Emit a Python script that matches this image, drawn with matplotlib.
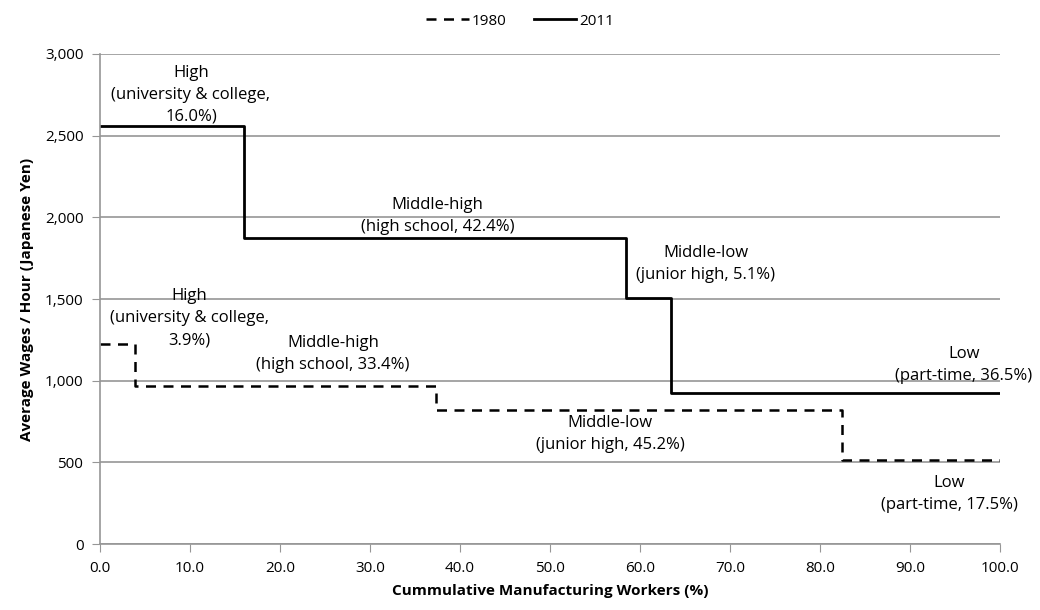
import matplotlib.pyplot as plt
from matplotlib.ticker import FuncFormatter

plt.rcParams['font.family'] = ['Open Sans', 'DejaVu Sans']

# cumulative share of workers (%) at each step edge, and wage level per group
edges_1980 = [0, 3.9, 37.3, 82.5, 100]
wages_1980 = [1222, 969, 821, 515]
edges_2011 = [0, 16.0, 58.4, 63.5, 100]
wages_2011 = [2562, 1876, 1505, 928]

labels_1980 = ['High\n(university & college,\n3.9%)', 'Middle-high\n(high school, 33.4%)',
               'Middle-low\n(junior high, 45.2%)', 'Low\n(part-time, 17.5%)']
labels_2011 = ['High\n(university & college,\n16.0%)', 'Middle-high\n(high school, 42.4%)',
               'Middle-low\n(junior high, 5.1%)', 'Low\n(part-time, 36.5%)']
# label anchors (x %, y yen)
pos_1980 = [(9.9, 1381), (25.9, 1163), (56.7, 673), (94.4, 306)]
pos_2011 = [(10.1, 2749), (37.5, 2011), (67.3, 1717), (96.0, 1096)]

fig = plt.figure(figsize=(10.4, 6.1), dpi=100)
ax = fig.add_axes([0.0962, 0.108, 0.8653, 0.8035])

ax.step(edges_1980, wages_1980 + [wages_1980[-1]], where='post', color='black',
        lw=1.8, ls=(0, (4, 3)), label='1980')
ax.step(edges_2011, wages_2011 + [wages_2011[-1]], where='post', color='black',
        lw=2.0, label='2011')

for txt, (x, y) in zip(labels_1980 + labels_2011, pos_1980 + pos_2011):
    ax.text(x, y, txt, ha='center', va='center', fontsize=12, linespacing=1.5)

ax.set_xlim(0, 100)
ax.set_ylim(0, 3000)
ax.set_xticks(range(0, 101, 10))
ax.set_yticks(range(0, 3001, 500))
ax.xaxis.set_major_formatter(FuncFormatter(lambda v, p: f'{v:.1f}'))
ax.yaxis.set_major_formatter(FuncFormatter(lambda v, p: f'{int(v):,}'))
ax.yaxis.grid(True, color='#969696', lw=1.2)
ax.set_axisbelow(True)
for s in ['top', 'right']:
    ax.spines[s].set_visible(False)
for s in ['left', 'bottom']:
    ax.spines[s].set_color('#969696')
    ax.spines[s].set_linewidth(1.2)
ax.tick_params(axis='x', direction='out', length=6, color='#969696', labelsize=11, pad=6)
ax.tick_params(axis='y', direction='out', length=6, color='#969696', labelsize=11, pad=6)

ax.set_xlabel('Cummulative Manufacturing Workers (%)', fontsize=11, fontweight='bold', labelpad=6)
ax.set_ylabel('Average Wages / Hour (Japanese Yen)', fontsize=11, fontweight='bold', labelpad=8)

fig.legend(loc='upper center', bbox_to_anchor=(0.5, 1.0), ncol=2, frameon=False,
           fontsize=11, handlelength=2.8, handletextpad=0.15, columnspacing=1.8)

fig.savefig('out.png', dpi=100)
